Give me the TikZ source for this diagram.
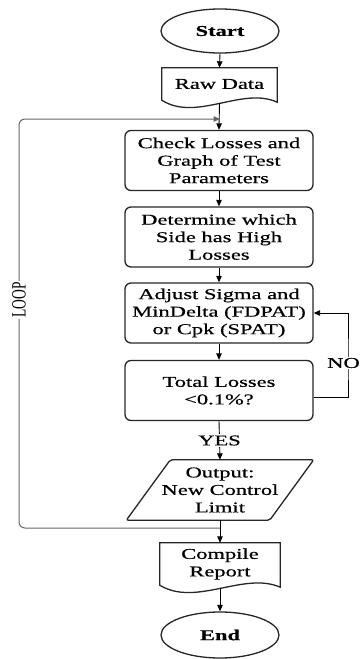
\documentclass[tikz,border=0pt]{standalone}
\usepackage{fontspec}
\setmainfont[FakeStretch=1.5,FakeBold=0.6]{Liberation Serif}
\newfontfamily\plainserif{Liberation Serif}
\usetikzlibrary{shapes.geometric,arrows.meta,calc}
\begin{document}
\begin{tikzpicture}[x=1pt,y=-1pt,
  font=\fontsize{15}{17.5}\selectfont,
  box/.style={draw=black!85, line width=1.3pt, rounded corners=6pt, minimum width=188pt, minimum height=60pt, align=center, inner sep=0pt},
  term/.style={ellipse, draw=black!85, line width=1.3pt, minimum width=118pt, minimum height=44pt, inner sep=0pt, font=\fontsize{15}{17.5}\selectfont\bfseries},
  docbox/.style={inner sep=0pt, align=center},
  shapeline/.style={draw=black!85, line width=1.3pt},
  arr/.style={-{Triangle[length=6.5pt,width=5.5pt]}, line width=0.9pt, black},
  loopline/.style={-{Triangle[length=6.5pt,width=5.5pt]}, line width=1pt, draw=black!60, rounded corners=6pt},
  lbl/.style={fill=white, inner sep=1pt},
]
\useasboundingbox (0,0) rectangle (361,659);

% terminals
\node[term] (start) at (220,31) {Start};
\node[term, minimum height=46pt] (end) at (220,635) {End};

% Raw Data document
\node[docbox, minimum width=115pt, minimum height=32pt] (raw) at (219.5,84) {Raw Data};
\draw[shapeline] (raw.north west) -- (raw.north east) -- ($(raw.south east)+(0,2)$)
  .. controls ($(raw.south west)+(80.5,-14)$) and ($(raw.south west)+(34.5,22)$) .. (raw.south west) -- cycle;

% process boxes
\node[box] (check) at (219,160.5) {Check Losses and\\Graph of Test\\Parameters};
\node[box] (det) at (219,237) {Determine which\\Side has High\\Losses};
\node[box] (adjust) at (219,313) {Adjust Sigma and\\MinDelta (FDPAT)\\or Cpk (SPAT)};
\node[box] (total) at (219,390.5) {Total Losses\\<0.1\%?};

% output parallelogram
\node[docbox, minimum width=143pt, minimum height=60pt] (out) at (220,490) {Output:\\New Control\\Limit};
\draw[shapeline, rounded corners=2pt] ($(out.north west)+(22,0)$) -- ($(out.north east)+(22,0)$)
  -- ($(out.south east)+(-22,0)$) -- ($(out.south west)+(-22,0)$) -- cycle;

% Compile Report document
\node[docbox, minimum width=120pt, minimum height=42pt] (comp) at (220,564) {Compile\\Report};
\draw[shapeline] (comp.north west) -- (comp.north east) -- ($(comp.south east)+(0,2)$)
  .. controls ($(comp.south west)+(84,-14)$) and ($(comp.south west)+(36,22)$) .. (comp.south west) -- cycle;

% connectors
\draw[arr] (start.south) -- (raw.north);
\draw[arr] ($(raw.south)+(0,3)$) -- (check.north);
\draw[arr] (check.south) -- (det.north);
\draw[arr] (det.south) -- (adjust.north);
\draw[arr] (adjust.south) -- (total.north);
\draw[arr] (total.south) -- node[lbl]{YES} (out.north);
\draw[arr] (out.south) -- (comp.north);
\draw[arr] ($(comp.south)+(0,3)$) -- (end.north);

% NO feedback
\coordinate (nox) at (348,363);
\draw[arr] ($(total.east)+(0,7)$) -| (nox) |- (adjust.east);
\node[lbl, inner sep=0.5pt] at (343.5,363) {NO};

% LOOP
\coordinate (jb) at (220,528);
\coordinate (jt) at (220,119);
\coordinate (lx) at (19,300);
\draw[loopline] (jb) -| (lx) |- (jt);
\node[lbl, rotate=90, font=\plainserif\fontsize{13.5}{15}\selectfont] at (lx) {\scalebox{1}[1.5]{LOOP}};
\end{tikzpicture}
\end{document}
